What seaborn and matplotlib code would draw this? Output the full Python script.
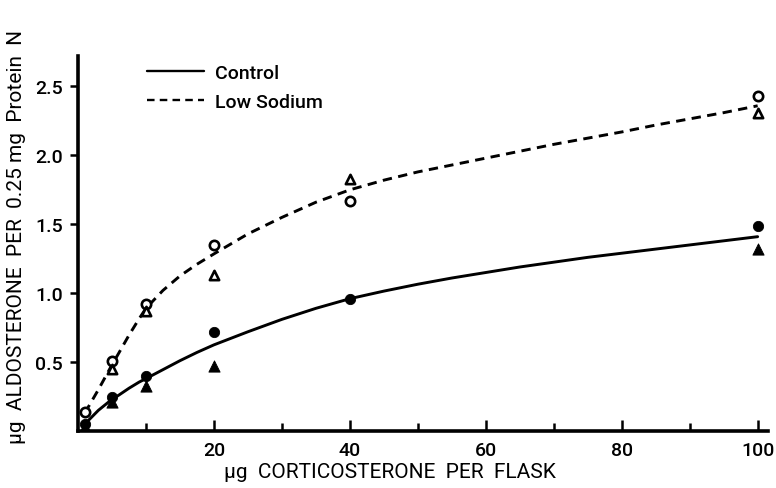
import numpy as np
import pandas as pd
import matplotlib
matplotlib.use("Agg")
import matplotlib.pyplot as plt
import seaborn as sns
from matplotlib.lines import Line2D

# ---- data ----
dose = [1, 5, 10, 20, 40, 100]
control_circle = [0.05, 0.25, 0.40, 0.72, 0.96, 1.49]
control_tri_x = [1, 5, 10, 20, 100]
control_tri = [0.03, 0.21, 0.33, 0.47, 1.32]
lowna_circle = [0.14, 0.51, 0.92, 1.35, 1.67, 2.43]
lowna_tri_x = [5, 10, 20, 40, 100]
lowna_tri = [0.45, 0.87, 1.13, 1.83, 2.31]

curve_x = [1, 2, 3, 4, 5, 6, 7.5, 9, 10, 12.5, 15, 17.5, 20, 25, 30, 35, 40,
           45, 50, 55, 60, 65, 70, 75, 80, 85, 90, 95, 100]
control_curve = [0.05, 0.10, 0.15, 0.19, 0.23, 0.26, 0.31, 0.355, 0.38, 0.445, 0.51, 0.57,
                 0.625, 0.72, 0.81, 0.89, 0.96, 1.015, 1.065, 1.11, 1.15, 1.19, 1.225,
                 1.26, 1.29, 1.32, 1.35, 1.38, 1.41]
lowna_curve = [0.13, 0.215, 0.30, 0.39, 0.48, 0.565, 0.695, 0.815, 0.89, 1.02, 1.125, 1.21,
               1.285, 1.43, 1.55, 1.66, 1.75, 1.82, 1.88, 1.93, 1.98, 2.03, 2.08,
               2.125, 2.17, 2.22, 2.265, 2.31, 2.36]

x_major = [20, 40, 60, 80, 100]
x_minor = [10, 30, 50, 70, 90]
y_ticks = [0.5, 1.0, 1.5, 2.0, 2.5]
y_ticklabels = ["0.5", "1.0", "1.5", "2.0", "2.5"]

sns.set_style("ticks")
plt.rcParams['font.family'] = ['Roboto', 'Liberation Sans', 'DejaVu Sans']
plt.rcParams['font.weight'] = 'medium'
plt.rcParams['text.color'] = 'black'
plt.rcParams['axes.labelcolor'] = 'black'
plt.rcParams['xtick.color'] = 'black'
plt.rcParams['ytick.color'] = 'black'
plt.rcParams['axes.edgecolor'] = 'black'

fig = plt.figure(figsize=(7.76, 4.89), dpi=100)
ax = fig.add_axes([0.1005, 0.1166, 0.889, 0.7665])

curves = pd.DataFrame({
    "x": curve_x * 2,
    "y": control_curve + lowna_curve,
    "group": ["Control"] * len(curve_x) + ["Low Sodium"] * len(curve_x),
})
sns.lineplot(data=curves, x="x", y="y", hue="group", style="group",
             palette={"Control": "black", "Low Sodium": "black"},
             dashes={"Control": "", "Low Sodium": (3.2, 2.2)},
             linewidth=2.1, ax=ax, legend=False)

ms = 55
sns.scatterplot(x=dose, y=control_circle, marker="o", color="black", s=ms,
                edgecolor="black", ax=ax, zorder=3)
sns.scatterplot(x=control_tri_x, y=control_tri, marker="^", color="black", s=ms + 10,
                edgecolor="black", ax=ax, zorder=3)
sns.scatterplot(x=dose, y=lowna_circle, marker="o", facecolor="white", s=ms - 10,
                edgecolor="black", linewidth=1.9, ax=ax, zorder=3)
sns.scatterplot(x=lowna_tri_x, y=lowna_tri, marker="^", facecolor="white", s=ms - 10,
                edgecolor="black", linewidth=1.9, ax=ax, zorder=3)

ax.set_xlim(0, 101.5)
ax.set_ylim(0, 2.72)
sns.despine(ax=ax)
for s in ["left", "bottom"]:
    ax.spines[s].set_linewidth(2.6)
    ax.spines[s].set_color("black")

ax.set_xticks(x_major)
ax.set_xticks(x_minor, minor=True)
ax.set_xticklabels([str(v) for v in x_major], fontsize=14)
ax.tick_params(axis="x", which="major", direction="in", length=8, width=1.8, pad=7)
ax.tick_params(axis="x", which="minor", direction="in", length=6, width=1.8)
ax.set_yticks(y_ticks)
ax.set_yticklabels(y_ticklabels, fontsize=14)
ax.tick_params(axis="y", direction="out", length=6, width=1.8, pad=5)

ax.set_xlabel("\u03bcg  CORTICOSTERONE  PER  FLASK", fontsize=15)
ax.xaxis.set_label_coords(0.452, -0.083)
ax.set_ylabel("\u03bcg  ALDOSTERONE  PER  0.25 mg  Protein  N", fontsize=15)
ax.yaxis.set_label_coords(-0.075, 0.52)

h1 = Line2D([], [], color="black", linewidth=1.7)
h2 = Line2D([], [], color="black", linewidth=1.7, linestyle=(0, (3.2, 2.2)))
leg = ax.legend([h1, h2], ["Control", "Low Sodium"], loc="upper left",
                bbox_to_anchor=(0.075, 1.025), frameon=False, fontsize=14,
                handlelength=2.9, handletextpad=0.6, labelspacing=0.55)

fig.savefig("out.png", dpi=100)
